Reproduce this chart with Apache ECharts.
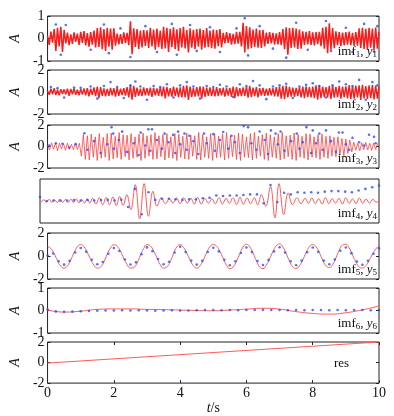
<!DOCTYPE html>
<html>
<head>
<meta charset="utf-8">
<script src="https://cdn.jsdelivr.net/npm/echarts@6/dist/echarts.min.js"></script>
<style>
  html, body { margin: 0; background: #fff; }
  #chart { width: 394px; height: 416px; }
</style>
</head>
<body>
<div id="chart"></div>
<script>
// imf1: sampled every 0.05 s
const red1 = [
  0.12,-0.28,0.31,-0.18,0.42,-0.55,0.48,-0.35,0.52,-0.6,0.38,-0.22,0.26,-0.3,0.18,-0.24,0.27,-0.15,0.22,-0.28,
  0.3,-0.2,0.33,-0.31,0.24,-0.36,0.29,-0.27,0.35,-0.4,0.46,-0.38,0.5,-0.47,0.42,-0.55,0.48,-0.36,0.44,-0.5,
  0.45,-0.32,0.22,-0.26,0.2,-0.24,0.27,-0.21,0.25,-0.3,0.76,-0.7,0.45,-0.38,0.42,-0.46,0.35,-0.4,0.38,-0.33,
  0.36,-0.42,0.48,-0.35,0.4,-0.5,0.44,-0.38,0.35,-0.46,0.52,-0.44,0.47,-0.6,0.43,-0.39,0.5,-0.48,0.41,-0.55,
  0.46,-0.4,0.52,-0.44,0.38,-0.62,0.45,-0.41,0.39,-0.47,0.42,-0.36,0.44,-0.5,0.37,-0.41,0.46,-0.39,0.35,-0.43,
  0.4,-0.45,0.38,-0.34,0.42,-0.4,0.25,-0.22,0.28,-0.2,0.24,-0.27,0.21,-0.25,0.29,-0.23,0.3,-0.35,0.7,-0.62,
  0.55,-0.48,0.5,-0.43,0.4,-0.38,0.44,-0.41,0.37,-0.42,0.39,-0.35,0.26,-0.24,0.28,-0.22,0.25,-0.27,0.23,-0.26,
  0.28,-0.3,0.42,-0.48,0.5,-0.72,0.46,-0.42,0.48,-0.4,0.44,-0.46,0.4,-0.45,0.32,-0.28,0.3,-0.26,0.33,-0.29,
  0.27,-0.31,0.29,-0.25,0.3,-0.34,0.48,-0.45,0.52,-0.65,0.68,-0.5,0.46,-0.43,0.32,-0.3,0.28,-0.34,0.26,-0.31,
  0.29,-0.27,0.31,-0.3,0.25,-0.33,0.28,-0.32,0.45,-0.42,0.48,-0.46,0.43,-0.5,0.47,-0.41,0.44,-0.52,0.49,-0.45,
  0.3
];
const dots1 = [
  [0.25,0.62],[0.4,-0.72],[0.55,0.6],[1.3,-0.5],[1.7,0.62],[1.85,-0.65],[2.2,0.45],[2.5,-0.82],
  [2.95,0.55],[3.3,-0.6],[3.75,0.65],[3.9,-0.72],[4.3,0.6],[4.5,-0.55],[4.9,0.5],[5.2,-0.6],
  [5.7,0.45],[5.95,0.9],[6.05,-0.75],[6.4,0.55],[6.8,-0.45],[7.2,-0.85],[7.5,0.7],[7.85,-0.5],
  [8.4,0.78],[8.55,-0.55],[9.0,0.48],[9.2,-0.6],[9.55,0.65],[9.85,-0.58],[9.95,0.55]
];

// imf2: sampled every 0.05 s
const red2 = [
  0.1,-0.25,0.3,-0.2,0.35,-0.28,0.22,-0.3,0.26,-0.18,0.24,-0.22,0.3,-0.34,0.28,-0.2,0.32,-0.26,0.21,-0.3,
  0.28,-0.24,0.33,-0.3,0.36,-0.4,0.3,-0.26,0.42,-0.38,0.5,-0.55,0.45,-0.36,0.33,-0.4,0.28,-0.34,0.38,-0.3,
  0.34,-0.42,0.4,-0.35,0.3,-0.28,0.36,-0.33,0.45,-0.5,0.62,-0.7,0.55,-0.44,0.4,-0.36,0.3,-0.38,0.42,-0.3,
  0.35,-0.32,0.4,-0.45,0.38,-0.3,0.32,-0.36,0.44,-0.4,0.5,-0.58,0.46,-0.4,0.36,-0.42,0.48,-0.38,0.4,-0.46,
  0.42,-0.5,0.55,-0.48,0.6,-0.72,0.5,-0.45,0.38,-0.42,0.45,-0.4,0.52,-0.6,0.48,-0.44,0.4,-0.36,0.42,-0.38,
  0.36,-0.4,0.45,-0.38,0.34,-0.3,0.4,-0.42,0.36,-0.33,0.38,-0.45,0.5,-0.55,0.44,-0.4,0.36,-0.38,0.42,-0.35,
  0.48,-0.52,0.55,-0.46,0.4,-0.38,0.44,-0.5,0.36,-0.32,0.38,-0.35,0.3,-0.33,0.36,-0.3,0.34,-0.4,0.45,-0.42,
  0.5,-0.6,0.55,-0.65,0.58,-0.5,0.46,-0.42,0.4,-0.44,0.38,-0.36,0.42,-0.48,0.5,-0.55,0.52,-0.46,0.44,-0.5,
  0.48,-0.56,0.6,-0.7,0.62,-0.55,0.5,-0.46,0.44,-0.5,0.56,-0.62,0.58,-0.52,0.46,-0.5,0.55,-0.6,0.5,-0.48,
  0.52,-0.58,0.62,-0.66,0.55,-0.6,0.58,-0.5,0.6,-0.72,0.65,-0.58,0.54,-0.62,0.6,-0.55,0.62,-0.68,0.58,-0.6,
  0.5
];
const dots2 = [
  [0.1,0.45],[0.3,0.35],[0.5,-0.5],[0.8,0.4],[1.0,0.38],[1.3,0.5],[1.5,-0.6],[1.7,0.55],[1.9,0.9],[2.1,0.45],
  [2.3,-0.55],[2.5,0.6],[2.65,0.95],[2.8,0.5],[3.0,-0.7],[3.2,0.55],[3.4,0.45],[3.6,0.7],[3.8,-0.5],[4.0,0.6],
  [4.2,0.9],[4.4,0.5],[4.6,-0.6],[4.8,0.55],[5.0,0.45],[5.2,0.65],[5.4,0.5],[5.6,-0.45],[5.8,0.7],[6.0,0.55],
  [6.2,1.0],[6.4,0.6],[6.6,-0.65],[6.8,0.5],[7.0,0.6],[7.2,0.75],[7.4,-0.55],[7.6,0.5],[7.8,0.65],[8.0,0.8],
  [8.2,0.55],[8.4,-0.5],[8.6,0.6],[8.8,0.95],[9.0,0.7],[9.2,0.55],[9.4,1.1],[9.6,-0.7],[9.8,0.9],[9.95,0.6]
];

// imf3: sampled every 0.06 s
const red3 = [
  0.1,-0.3,0.35,-0.25,0.3,-0.4,0.32,-0.22,0.28,-0.35,0.3,-0.25,0.2,-0.3,0.35,-0.28,0.3,
  -0.9,1.1,-1.2,1.0,-1.25,1.15,-1.0,0.9,-1.3,1.2,-1.1,0.85,-1.0,1.2,-1.3,1.25,-1.15,0.95,-1.05,1.3,
  -1.2,1.1,-0.95,1.05,-1.25,1.2,-1.1,0.9,-1.0,1.15,-1.3,1.25,-1.1,1.0,-0.9,1.1,-1.2,1.3,-1.15,1.0,
  -0.95,1.1,-1.25,1.2,-1.05,0.9,-1.1,1.2,-1.3,1.15,-1.0,0.95,-1.15,1.25,-1.2,1.05,-0.9,1.0,-1.2,1.3,
  -1.25,1.1,-1.0,0.9,-1.1,1.2,-1.3,1.2,-1.05,0.95,-1.0,1.15,-1.25,1.3,-1.1,1.0,-0.95,1.05,-1.2,1.25,
  -1.3,1.15,-1.0,0.9,-1.05,1.2,-1.25,1.3,-1.1,0.95,-0.9,1.1,-1.2,1.25,-1.3,1.1,-1.0,0.9,-1.1,1.2,
  -1.25,1.3,-1.15,1.0,-0.95,1.05,-1.2,1.25,-1.3,1.1,-1.0,0.95,-1.1,1.2,-1.25,1.15,-1.0,0.9,-1.05,1.1,
  -1.2,1.15,-1.0,0.95,-1.1,1.0,-0.9,0.85,-0.95,0.9,-0.8,0.75,-0.85,0.7,-0.65,0.6,-0.5,
  0.4,-0.35,0.3,-0.4,0.35,-0.3,0.38,-0.32,0.3,-0.36,0.32,-0.28,0.3
];
const dots3 = [
  [0.05,0.1],[0.25,0.3],[0.45,0.25],[0.65,-0.1],[0.85,0.2],
  [1.11,1.23],[1.93,1.79],[1.98,1.2],[2.25,1.38],[2.81,1.3],[3.04,1.6],[3.15,1.6],[3.53,1.2],[3.79,1.08],
  [3.94,1.38],[4.13,1.2],[4.28,1.0],[4.72,1.2],[5.0,1.15],[5.3,1.35],[5.55,1.0],[5.92,1.9],[6.05,1.8],
  [6.4,1.4],[6.74,1.5],[6.88,1.2],[7.03,1.4],[7.52,1.2],[7.81,1.8],[8.0,1.5],[8.2,1.2],[8.4,1.5],
  [8.79,1.3],[8.9,1.3],[9.2,0.8],[9.7,1.1],[9.85,0.9],
  [1.2,-0.3],[1.4,0.5],[1.6,-0.6],[1.8,0.2],[2.0,-0.2],[2.15,0.6],[2.4,-0.5],[2.6,0.3],[2.75,-0.8],
  [2.95,0.1],[3.1,-0.4],[3.3,0.6],[3.45,-0.2],[3.65,0.4],[3.85,-0.6],[4.0,0.2],[4.2,-0.3],[4.4,0.5],
  [4.55,-0.7],[4.8,0.3],[5.05,-0.4],[5.2,0.6],[5.45,-0.2],[5.65,0.4],[5.8,-0.6],[6.15,0.3],[6.3,-0.3],
  [6.55,0.6],[6.65,-0.7],[6.95,0.2],[7.15,-0.4],[7.35,0.5],[7.6,-0.2],[7.7,0.4],[7.95,-0.6],[8.1,0.3],
  [8.3,-0.3],[8.55,0.5],[8.7,-0.5],[9.0,0.2],[9.1,-0.3],[9.4,0.4],[9.55,0.1],[9.9,0.3]
];

// imf4: turning points [t, A]
const red4 = [
  [0,0.08],[0.03,-0.1],[0.11,0.12],[0.19,-0.1],[0.27,0.15],[0.35,-0.12],[0.43,0.1],[0.51,-0.15],[0.59,0.18],
  [0.67,-0.12],[0.75,0.15],[0.83,-0.14],[0.91,0.18],[0.99,-0.15],[1.07,0.2],[1.15,-0.18],[1.23,0.15],
  [1.31,-0.2],[1.39,0.18],[1.47,-0.2],[1.55,0.25],[1.65,-0.28],[1.75,0.3],[1.85,-0.35],[1.95,0.32],
  [2.05,-0.35],[2.15,0.38],[2.25,-0.42],[2.35,0.4],[2.45,-0.4],
  [2.56,0.58],[2.68,-0.78],[2.81,1.49],[2.94,-1.63],[3.07,1.58],[3.2,-1.39],[3.33,0.88],[3.45,-0.48],
  [3.58,0.3],[3.7,-0.25],
  [3.82,0.22],[3.92,-0.2],[4.03,0.28],[4.13,-0.25],[4.24,0.3],[4.34,-0.22],[4.45,0.25],[4.55,-0.3],
  [4.65,0.32],[4.76,-0.28],[4.86,0.24],[4.97,-0.2],[5.07,0.22],[5.17,-0.26],[5.28,0.3],[5.38,-0.28],
  [5.49,0.25],[5.59,-0.22],[5.69,0.3],[5.8,-0.32],[5.9,0.35],[6.0,-0.3],[6.11,0.28],[6.21,-0.25],
  [6.32,0.3],[6.42,-0.35],
  [6.53,0.58],[6.66,-0.48],[6.8,1.34],[6.93,-1.54],[7.05,1.58],[7.19,-1.24],[7.32,0.74],[7.45,-0.33],
  [7.58,0.3],[7.7,-0.25],
  [7.82,0.25],[7.92,-0.22],[8.02,0.28],[8.12,-0.25],[8.22,0.22],[8.32,-0.28],[8.42,0.3],[8.52,-0.25],
  [8.62,0.22],[8.72,-0.2],[8.82,0.25],[8.92,-0.28],[9.02,0.3],[9.12,-0.22],[9.22,0.2],[9.32,-0.25],
  [9.42,0.28],[9.52,-0.22],[9.62,0.18],[9.72,-0.2],[9.82,0.15],[9.92,-0.12],[10,0.05]
];
// y4 dots every 0.2 s
const dots4 = [
  0.37,0.0,0.05,0.02,0.05,0.08,0.05,0.1,0.05,0.08,0.1,0.05,0.12,
  -0.55,1.1,-1.2,0.8,0.1,0.2,0.2,0.15,0.1,0.15,0.15,0.25,0.3,0.5,0.45,0.5,0.5,0.55,0.6,0.6,
  -0.2,1.45,-0.1,0.75,0.6,0.8,0.75,0.8,0.75,0.85,0.9,0.9,0.85,0.8,0.95,1.1,1.25,1.4
];

// imf5: sampled every 0.1 s
const red5 = [
  0.83,0.65,0.2,-0.4,-0.88,-1.05,-0.85,-0.35,0.3,0.8,
  1.0,0.8,0.3,-0.3,-0.8,-1.05,-0.95,-0.5,0.15,0.7,
  0.98,0.85,0.4,-0.2,-0.75,-1.05,-1.0,-0.6,0.05,0.65,
  0.98,0.88,0.45,-0.15,-0.75,-1.05,-0.95,-0.5,0.2,0.8,
  0.98,0.75,0.25,-0.35,-0.85,-1.05,-0.85,-0.35,0.3,0.8,
  1.0,0.85,0.4,-0.2,-0.8,-1.1,-0.95,-0.45,0.2,0.78,
  1.02,0.8,0.25,-0.4,-0.95,-1.1,-0.8,-0.25,0.4,0.88,
  1.05,0.78,0.2,-0.45,-0.95,-1.1,-0.85,-0.35,0.3,0.8,
  1.0,0.8,0.3,-0.35,-0.85,-1.0,-0.75,-0.15,0.5,0.95,
  1.02,0.7,0.1,-0.5,-0.95,-1.05,-0.85,-0.4,0.15,0.6,
  0.9
];
// y5 dots every 1/6 s
const dots5 = [
  0.05,0.22,-0.45,-0.75,-0.42,0.3,0.7,0.38,-0.32,-0.72,-0.52,0.2,
  0.7,0.44,-0.3,-0.74,-0.55,0.15,0.75,0.42,-0.26,-0.72,-0.5,0.3,
  0.8,0.34,-0.4,-0.75,-0.42,0.35,0.72,0.4,-0.32,-0.8,-0.46,0.26,
  0.74,0.34,-0.44,-0.78,-0.34,0.4,0.76,0.3,-0.46,-0.8,-0.4,0.33,
  0.74,0.36,-0.4,-0.72,-0.3,0.46,0.74,0.25,-0.48,-0.76,-0.42,0.2,
  0.66
];

// imf6: sampled every 0.5 s
const red6 = [0.02,-0.07,-0.03,0.05,0.07,0.07,0.05,0.04,0.02,0.0,-0.01,0.02,0.06,0.1,0.06,-0.05,-0.13,-0.16,-0.1,0.03,0.2];
// y6 dots every 0.25 s
const dots6 = [
  0.05,-0.04,-0.06,-0.05,-0.03,-0.02,-0.01,0.0,0.0,0.01,0.0,0.01,0.0,-0.01,0.0,0.01,
  0.0,0.0,0.01,0.02,0.02,0.01,0.02,0.01,0.02,0.02,0.03,0.02,0.02,0.01,0.02,0.01,
  0.02,0.02,0.01,0.02,0.01,0.02,0.02,0.01,0.02
];

// residual
const resT = [0, 10];
const resV = [-0.05, 2.0];

const seq = (vals, step) => vals.map((v, i) => [+(i * step).toFixed(4), v]);

const serif = 'Liberation Serif';
const panels = [
  { top: 16, h: 45, lim: 1, red: seq(red1, 0.05), dots: dots1, k: '1', color: '#ff1a1a', w: 1.5 },
  { top: 70, h: 44, lim: 2, red: seq(red2, 0.05), dots: dots2, k: '2', color: '#ff1a1a', w: 1.4 },
  { top: 125, h: 43, lim: 2, red: seq(red3, 0.06), dots: dots3, k: '3', color: '#ff4040', w: 0.8 },
  { top: 179, h: 44, lim: 2, red: red4, dots: seq(dots4, 0.2), k: '4', color: '#ff5a5a', w: 1, bare: true },
  { top: 233, h: 46, lim: 2, red: seq(red5, 0.1), dots: seq(dots5, 1 / 6), k: '5', color: '#ff5a5a', w: 1, smooth: true },
  { top: 288, h: 45, lim: 1, red: seq(red6, 0.5), dots: seq(dots6, 0.25), k: '6', color: '#ff5a5a', w: 1, smooth: true },
  { top: 342, h: 47, lim: 2, red: resT.map((t, i) => [t, resV[i]]), dots: [], k: null, color: '#ff5a5a', w: 1 }
];
const last = panels.length - 1;

const chart = echarts.init(document.getElementById('chart'), null, { renderer: 'canvas' });

const grid = panels.map(p => ({
  left: 40, right: 15, top: p.top, height: p.h,
  show: true, borderColor: '#222', borderWidth: 1, backgroundColor: '#fff'
}));

const tickStyle = { show: true, inside: true, length: 3, lineStyle: { color: '#222' } };

const xAxis = panels.map((p, i) => ({
  gridIndex: i, type: 'value', min: 0, max: 10, interval: 2, position: 'bottom',
  axisLine: { show: false, onZero: false },
  axisTick: Object.assign({}, tickStyle, { show: i === last }),
  axisLabel: { show: i === last, color: '#111', fontFamily: serif, fontSize: 14, margin: 3 },
  splitLine: { show: false },
  name: i === last ? '{i|t}{n|/s}' : '',
  nameLocation: 'middle', nameGap: 15,
  nameTextStyle: {
    rich: {
      i: { fontFamily: serif, fontSize: 14, fontStyle: 'italic', color: '#111' },
      n: { fontFamily: serif, fontSize: 14, color: '#111' }
    }
  }
}));
xAxis.push({
  gridIndex: last, type: 'value', min: 0, max: 10, interval: 2, position: 'top',
  axisLine: { show: false, onZero: false }, axisLabel: { show: false }, splitLine: { show: false },
  axisTick: tickStyle
});

const yAxis = [];
panels.forEach((p, i) => {
  yAxis.push({
    gridIndex: i, type: 'value', min: -p.lim, max: p.lim, interval: p.lim, position: 'left',
    axisLine: { show: false, onZero: false },
    axisTick: Object.assign({}, tickStyle, { show: !p.bare }),
    axisLabel: { show: !p.bare, color: '#111', fontFamily: serif, fontSize: 14, margin: 3 },
    splitLine: { show: false },
    name: p.bare ? '' : 'A', nameLocation: 'middle', nameRotate: 90, nameGap: 17,
    nameTextStyle: { fontFamily: serif, fontSize: 14, fontStyle: 'italic', color: '#111' }
  });
});
panels.forEach((p, i) => {
  yAxis.push({
    gridIndex: i, type: 'value', min: -p.lim, max: p.lim, interval: p.lim, position: 'right',
    axisLine: { show: false, onZero: false }, axisLabel: { show: false }, splitLine: { show: false },
    axisTick: Object.assign({}, tickStyle, { show: !p.bare })
  });
});

const series = [];
panels.forEach((p, i) => {
  series.push({
    type: 'line', xAxisIndex: i, yAxisIndex: i, data: p.red,
    showSymbol: false, smooth: p.smooth || (i === 3 ? 0.4 : false),
    lineStyle: { color: p.color, width: p.w }, z: 2
  });
  if (p.dots.length) {
    series.push({
      type: 'scatter', xAxisIndex: i, yAxisIndex: i, data: p.dots,
      symbol: 'circle', symbolSize: 2.6, itemStyle: { color: '#2f4cff' }, z: 3
    });
  }
});

const tagRich = {
  n: { fontFamily: serif, fontSize: 13, fontWeight: 'normal', color: '#111', verticalAlign: 'top', lineHeight: 14 },
  i: { fontFamily: serif, fontSize: 13, fontWeight: 'normal', color: '#111', fontStyle: 'italic', verticalAlign: 'top', lineHeight: 14 },
  s: { fontFamily: serif, fontSize: 9, fontWeight: 'normal', color: '#111', verticalAlign: 'top', lineHeight: 14, padding: [5, 0, 0, 0] }
};
const title = panels.map(p => p.k ? {
  text: `{n|imf}{s|${p.k}}{n|, }{i|y}{s|${p.k}}`,
  right: 17, top: p.top + p.h - 16, padding: 0,
  textStyle: { fontWeight: 'normal', rich: tagRich }
} : {
  text: 'res', left: 334, top: p.top + 15, padding: 0,
  textStyle: { fontFamily: serif, fontSize: 13, fontWeight: 'normal', color: '#111' }
});

chart.setOption({
  animation: false,
  backgroundColor: '#fff',
  title,
  grid,
  xAxis,
  yAxis,
  series
});
</script>
</body>
</html>
